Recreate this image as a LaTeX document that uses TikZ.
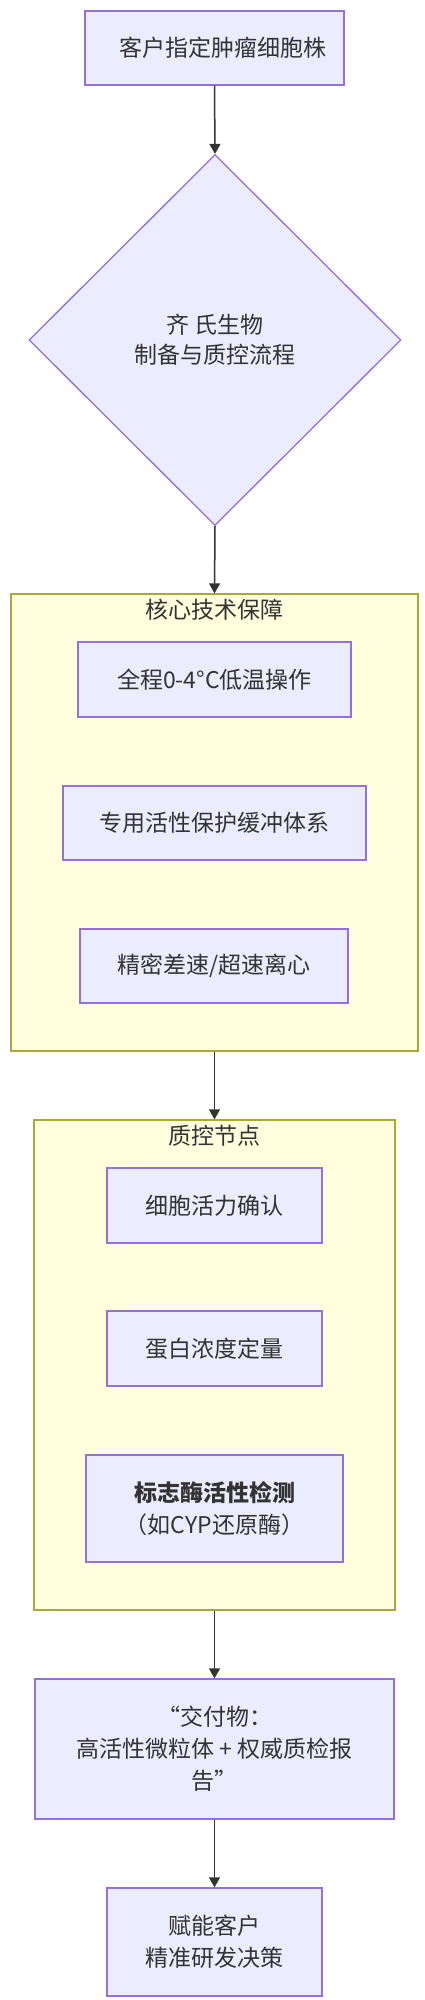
\documentclass[tikz,border=0pt]{standalone}
\usepackage{fontspec}
\setmainfont{Noto Sans CJK SC}
\usetikzlibrary{shapes.geometric,arrows.meta}
\definecolor{nodefill}{HTML}{ECECFF}
\definecolor{nodeline}{HTML}{9370DB}
\definecolor{grpfill}{HTML}{FFFFDE}
\definecolor{grpline}{HTML}{AAAA33}
\definecolor{txt}{HTML}{333333}
\definecolor{edgecol}{HTML}{333333}
\begin{document}
\begin{tikzpicture}[x=1pt,y=-1pt,
 every node/.style={text=txt, font=\fontsize{23}{32}\selectfont, inner sep=0pt},
 procbox/.style={draw=nodeline, fill=nodefill, line width=1.3pt, align=center},
 grpbox/.style={draw=grpline, fill=grpfill, line width=1.3pt},
 decision/.style={diamond, draw=nodeline, fill=nodefill, line width=1.3pt, align=center, aspect=1},
 flow/.style={draw=edgecol, line width=1.5pt, -{Triangle[length=10pt,width=11pt]}}]
\fill[white] (0,0) rectangle (425,2000);
\useasboundingbox (0,0) rectangle (425,2000);

\node[procbox, minimum width=259pt, minimum height=74pt] (start) at (214.5,48) {\hspace*{16pt}客户指定肿瘤细胞株};
\node[decision, minimum width=372pt, minimum height=371pt] (proc) at (215,340) {齐 氏生物\\[-2pt]制备与质控流程};

\node[grpbox, minimum width=407pt, minimum height=457pt] (core) at (214.5,822.5) {};
\node (coretitle) at (214.5,610) {核心技术保障};
\node[procbox, minimum width=273pt, minimum height=75pt] (lowtemp) at (214.5,679.5) {全程0-4°C低温操作};
\node[procbox, minimum width=303pt, minimum height=74pt] (buffer) at (214.5,823) {专用活性保护缓冲体系};
\node[procbox, minimum width=268pt, minimum height=74pt] (centri) at (214,966) {精密差速/超速离心};

\node[grpbox, minimum width=361pt, minimum height=490pt] (qc) at (214.5,1365) {};
\node (qctitle) at (214.5,1136) {质控节点};
\node[procbox, minimum width=215pt, minimum height=75pt] (viab) at (214.5,1205.5) {细胞活力确认};
\node[procbox, minimum width=215pt, minimum height=75pt] (prot) at (214.5,1348.5) {蛋白浓度定量};
\node[procbox, minimum width=257pt, minimum height=107pt] (enz) at (214.5,1508.5) {{\bfseries 标志酶活性检测}\\（如CYP还原酶）};

\node[procbox, minimum width=359pt, minimum height=140pt] (deliv) at (214.5,1749) {“交付物：\\高活性微粒体 + 权威质检报\\告”};
\node[procbox, minimum width=215pt, minimum height=108pt] (final) at (214.5,1942) {赋能客户\\精准研发决策};

\draw[flow] (start.south) -- (proc.north);
\draw[flow] (proc.south) -- (core.north);
\draw[flow] (core.south) -- (qc.north);
\draw[flow] (qc.south) -- (deliv.north);
\draw[flow] (deliv.south) -- (final.north);
\end{tikzpicture}
\end{document}
